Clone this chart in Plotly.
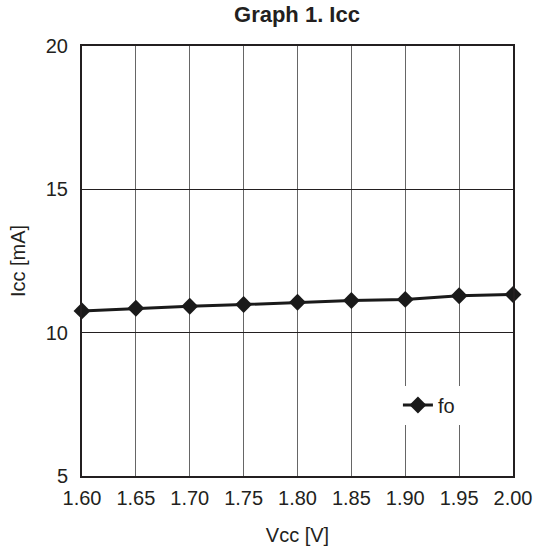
import plotly.graph_objects as go

vcc = [1.60, 1.65, 1.70, 1.75, 1.80, 1.85, 1.90, 1.95, 2.00]
icc = [10.76, 10.85, 10.92, 10.98, 11.06, 11.12, 11.16, 11.29, 11.33]
x_ticks = [1.60, 1.65, 1.70, 1.75, 1.80, 1.85, 1.90, 1.95, 2.00]
x_tick_labels = ["1.60", "1.65", "1.70", "1.75", "1.80", "1.85", "1.90", "1.95", "2.00"]
y_ticks = [5, 10, 15, 20]

fig = go.Figure()
fig.add_trace(go.Scatter(
    x=vcc, y=icc, mode="lines+markers", name="fo",
    line=dict(color="#1a1a1a", width=3),
    marker=dict(symbol="diamond", size=13, color="#1a1a1a"),
    cliponaxis=False,
))

fig.update_layout(
    width=534, height=551,
    margin=dict(l=82, r=21, t=46, b=75, autoexpand=False),
    paper_bgcolor="white", plot_bgcolor="white",
    font=dict(family="Liberation Sans, Arial, sans-serif", size=20, color="#231f20"),
    title=dict(text="<b>Graph 1. Icc</b>", x=297 / 534, xanchor="center",
               y=1 - 14 / 551, yanchor="middle", font=dict(size=22)),
    showlegend=True,
    legend=dict(x=0.733, y=0.165, xanchor="left", yanchor="middle",
                bgcolor="white", borderwidth=0, font=dict(size=20),
                itemwidth=30, tracegroupgap=0),
    xaxis=dict(range=[1.60, 2.00], tickvals=x_ticks, ticktext=x_tick_labels,
               showgrid=True, gridcolor="#666666", gridwidth=1,
               showline=True, linecolor="#231f20", linewidth=2, mirror=True,
               ticks="outside", ticklen=3, tickcolor="rgba(0,0,0,0)",
               zeroline=False, automargin=False,
               title=dict(text="Vcc [V]", standoff=20, font=dict(size=20))),
    yaxis=dict(range=[5, 20], tickvals=y_ticks,
               showgrid=True, gridcolor="#231f20", gridwidth=1,
               showline=True, linecolor="#231f20", linewidth=2, mirror=True,
               ticks="outside", ticklen=8, tickcolor="rgba(0,0,0,0)",
               zeroline=False, automargin=False,
               title=dict(text="Icc [mA]", standoff=15, font=dict(size=20))),
)

fig.write_html("out.html", config={"displayModeBar": False},
               post_script="document.body.style.margin='0';")
